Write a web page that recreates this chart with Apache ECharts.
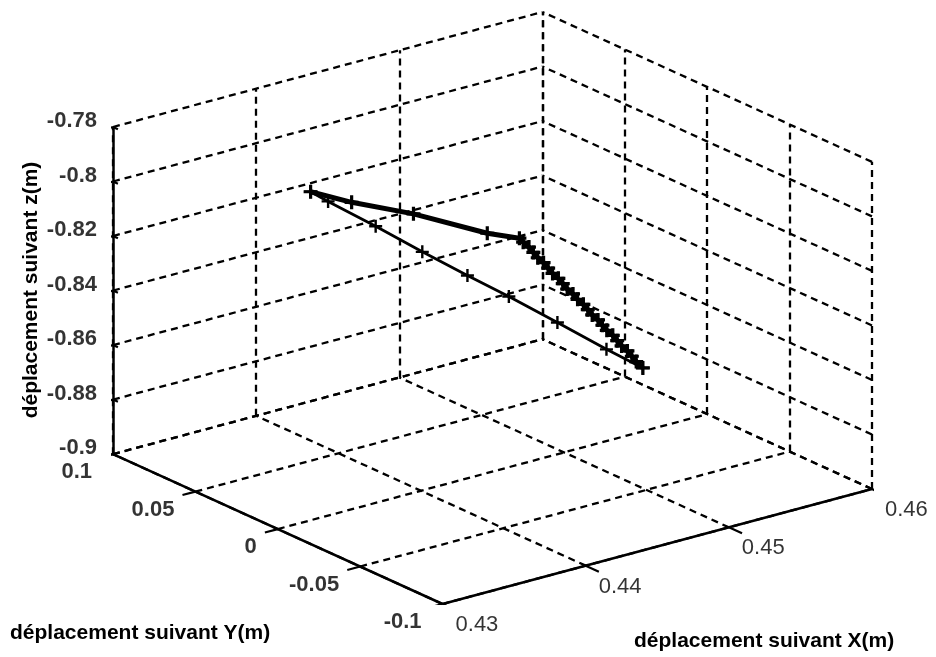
<!DOCTYPE html>
<html>
<head>
<meta charset="utf-8">
<script src="https://cdn.jsdelivr.net/npm/echarts@6/dist/echarts.min.js"></script>
<style>html,body{margin:0;padding:0;background:#fff;}#c{width:936px;height:657px;}</style>
</head>
<body>
<div id="c"></div>
<script>
// ---- data (3D values) ----
const xTicks = [0.43, 0.44, 0.45, 0.46];
const yTicks = [-0.1, -0.05, 0, 0.05, 0.1];
const zTicks = [-0.9, -0.88, -0.86, -0.84, -0.82, -0.8, -0.78];

// thin straight trajectory
const pathAX = [0.4392, 0.4398, 0.4415, 0.4431, 0.4447, 0.4462, 0.4479, 0.4496, 0.4509];
const pathAY = [0.0600, 0.0546, 0.0405, 0.0261, 0.0126, 0.0005, -0.0142, -0.0292, -0.0400];
const pathAZ = [-0.8057, -0.8086, -0.8162, -0.8239, -0.8311, -0.8376, -0.8455, -0.8536, -0.8593];

// thick trajectory with bend and dense samples
const pathBX = [0.4392, 0.4408, 0.4433, 0.4462, 0.4475, 0.4476, 0.4478, 0.4479, 0.4480, 0.4482, 0.4483, 0.4484, 0.4486, 0.4487, 0.4488, 0.4490, 0.4491, 0.4493, 0.4494, 0.4495, 0.4497, 0.4498, 0.4499, 0.4501, 0.4502, 0.4503, 0.4505, 0.4506, 0.4507, 0.4509];
const pathBY = [0.0600, 0.0490, 0.0332, 0.0136, 0.0054, 0.0040, 0.0022, 0.0004, -0.0014, -0.0032, -0.0051, -0.0069, -0.0087, -0.0105, -0.0123, -0.0141, -0.0160, -0.0178, -0.0196, -0.0214, -0.0232, -0.0250, -0.0268, -0.0287, -0.0305, -0.0323, -0.0341, -0.0359, -0.0377, -0.0400];
const pathBZ = [-0.8057, -0.8088, -0.8122, -0.8180, -0.8194, -0.8206, -0.8222, -0.8238, -0.8254, -0.8270, -0.8286, -0.8302, -0.8318, -0.8334, -0.8350, -0.8366, -0.8382, -0.8398, -0.8414, -0.8430, -0.8446, -0.8462, -0.8477, -0.8493, -0.8509, -0.8525, -0.8541, -0.8557, -0.8573, -0.8593];

const xTitle = 'déplacement suivant X(m)';
const yTitle = 'déplacement suivant Y(m)';
const zTitle = 'déplacement suivant z(m)';

// ---- projection (MATLAB-like view az/el, orthographic) ----
const az = -37.5 * Math.PI / 180, el = 30 * Math.PI / 180;
const ca = Math.cos(az), sa = Math.sin(az), ce = Math.cos(el), se = Math.sin(el);
const xr = [xTicks[0], xTicks[xTicks.length - 1]];
const yr = [yTicks[0], yTicks[yTicks.length - 1]];
const zr = [zTicks[0], zTicks[zTicks.length - 1]];
function P(x, y, z) {
  const u = (x - xr[0]) / (xr[1] - xr[0]);
  const v = (y - yr[0]) / (yr[1] - yr[0]);
  const w = (z - zr[0]) / (zr[1] - zr[0]);
  return [ca * u + sa * v, -se * sa * u + se * ca * v + ce * w];
}
const pxMin = sa, pxMax = ca, pyMin = 0, pyMax = -se * sa + se * ca + ce;

// grid segments
const gridSegs = [];
xTicks.forEach(X => {
  gridSegs.push({coords: [P(X, yr[1], zr[0]), P(X, yr[1], zr[1])]});
  gridSegs.push({coords: [P(X, yr[0], zr[0]), P(X, yr[1], zr[0])]});
});
yTicks.forEach(Y => {
  gridSegs.push({coords: [P(xr[1], Y, zr[0]), P(xr[1], Y, zr[1])]});
  gridSegs.push({coords: [P(xr[0], Y, zr[0]), P(xr[1], Y, zr[0])]});
});
zTicks.forEach(Z => {
  gridSegs.push({coords: [P(xr[0], yr[1], Z), P(xr[1], yr[1], Z)]});
  gridSegs.push({coords: [P(xr[1], yr[0], Z), P(xr[1], yr[1], Z)]});
});
const axisSegs = [
  {coords: [P(xr[0], yr[1], zr[0]), P(xr[0], yr[1], zr[1])]},
  {coords: [P(xr[0], yr[0], zr[0]), P(xr[0], yr[1], zr[0])]},
  {coords: [P(xr[0], yr[0], zr[0]), P(xr[1], yr[0], zr[0])]}
];
const tickSegs = [];
xTicks.forEach(X => tickSegs.push({coords: [P(X, yr[0], zr[0]), P(X, yr[0] - 0.008, zr[0])]}));
yTicks.forEach(Y => tickSegs.push({coords: [P(xr[0], Y, zr[0]), P(xr[0] - 0.0009, Y, zr[0])]}));
zTicks.forEach(Z => {
  tickSegs.push({coords: [P(xr[0], yr[1], Z), P(xr[0] - 0.0004, yr[1], Z)]});
  tickSegs.push({coords: [P(xr[0], yr[1], Z), P(xr[0], yr[1] - 0.003, Z)]});
});

const dataA = pathAX.map((x, i) => P(x, pathAY[i], pathAZ[i]));
const dataB = pathBX.map((x, i) => P(x, pathBY[i], pathBZ[i]));

const xLab = xTicks.map(X => ({value: P(X, yr[0], zr[0]), name: String(X)}));
const yLab = yTicks.map(Y => ({value: P(xr[0], Y, zr[0]), name: String(Y)}));
const zLab = zTicks.map(Z => ({value: P(xr[0], yr[1], Z), name: String(Z)}));

const plus = 'path://M5,0L5,10M0,5L10,5';
const FONT = 'Liberation Sans';

function labelSeries(data, lab) {
  return {
    type: 'scatter', data: data, symbolSize: 1, silent: true,
    itemStyle: {color: 'rgba(0,0,0,0)'},
    label: Object.assign({show: true, position: 'inside', formatter: p => p.name,
      color: '#000', fontFamily: FONT, fontSize: 22}, lab),
    z: 5
  };
}

const chart = echarts.init(document.getElementById('c'), null, {renderer: 'canvas'});
chart.setOption({
  animation: false,
  backgroundColor: '#fff',
  grid: {left: 113, right: 64, top: 12, bottom: 53},
  xAxis: {type: 'value', min: pxMin, max: pxMax, show: false},
  yAxis: {type: 'value', min: pyMin, max: pyMax, show: false},
  series: [
    {type: 'lines', coordinateSystem: 'cartesian2d', data: gridSegs, silent: true,
     lineStyle: {color: '#000', width: 2.3, type: [7, 5], opacity: 1}, z: 1},
    {type: 'lines', coordinateSystem: 'cartesian2d', data: axisSegs, silent: true,
     lineStyle: {color: '#000', width: 2.5, type: 'solid', opacity: 1}, z: 2},
    {type: 'lines', coordinateSystem: 'cartesian2d', data: tickSegs, silent: true,
     lineStyle: {color: '#000', width: 2.2, type: 'solid', opacity: 1}, z: 2},
    {type: 'line', data: dataA, symbol: plus, symbolSize: 13, showAllSymbol: true,
     lineStyle: {color: '#000', width: 2.8}, itemStyle: {color: '#000', borderColor: '#000', borderWidth: 2.4}, z: 3},
    {type: 'line', data: dataB, symbol: plus, symbolSize: 14, showAllSymbol: true,
     lineStyle: {color: '#000', width: 5}, itemStyle: {color: '#000', borderColor: '#000', borderWidth: 3.2}, z: 4},
    labelSeries(zLab, {align: 'right', verticalAlign: 'middle', offset: [-16, -6], fontWeight: 'bold'}),
    labelSeries(yLab, {align: 'right', verticalAlign: 'middle', offset: [-21, 18], fontWeight: 'bold'}),
    labelSeries(xLab, {align: 'left', verticalAlign: 'middle', offset: [13, 21]})
  ],
  graphic: [
    {type: 'text', left: 10, top: 623, style: {text: yTitle, font: 'bold 21px "Liberation Sans"', fill: '#000'}},
    {type: 'text', left: 634, top: 631, style: {text: xTitle, font: 'bold 21px "Liberation Sans"', fill: '#000'}},
    {type: 'text', x: 31, y: 290, rotation: Math.PI / 2,
     style: {text: zTitle, font: 'bold 21px "Liberation Sans"', fill: '#000', align: 'center', verticalAlign: 'middle'}}
  ]
});
</script>
</body>
</html>
